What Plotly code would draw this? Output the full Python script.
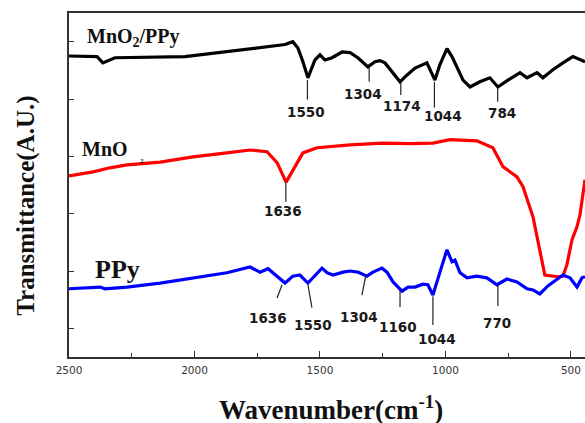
import plotly.graph_objects as go

# ---- data (wavenumber cm-1, transmittance a.u. offset) ----
wn_composite = [2500, 2388, 2365, 2337, 2317, 2038, 1898, 1779, 1699, 1639, 1608, 1588, 1568, 1548,
                1520, 1500, 1480, 1452, 1412, 1380, 1349, 1309, 1281, 1261, 1241, 1213, 1181, 1153,
                1121, 1074, 1042, 1022, 994, 974, 954, 930, 902, 863, 823, 791, 751, 703, 675, 635,
                612, 572, 532, 492, 444]
t_composite = [4.75, 4.74, 4.63, 4.68, 4.72, 4.74, 4.81, 4.88, 4.91, 4.95, 5.00, 4.89, 4.65, 4.37,
               4.68, 4.77, 4.68, 4.72, 4.82, 4.81, 4.72, 4.56, 4.65, 4.67, 4.63, 4.47, 4.30, 4.42,
               4.54, 4.63, 4.33, 4.60, 4.88, 4.74, 4.54, 4.33, 4.21, 4.30, 4.37, 4.21, 4.33, 4.46,
               4.37, 4.46, 4.37, 4.51, 4.63, 4.74, 4.65]

wn_mno2 = [2500, 2404, 2337, 2269, 2137, 2006, 1871, 1779, 1711, 1671, 1635, 1608, 1568, 1512,
           1380, 1249, 1141, 1050, 982, 875, 811, 771, 715, 691, 651, 604, 552, 532, 516, 496,
           476, 464, 444]
t_mno2 = [2.66, 2.73, 2.80, 2.85, 2.90, 2.99, 3.06, 3.11, 3.08, 2.89, 2.55, 2.76, 3.06, 3.15,
          3.20, 3.23, 3.22, 3.23, 3.29, 3.27, 3.15, 2.82, 2.64, 2.47, 1.94, 0.93, 0.90, 0.91, 1.11,
          1.54, 1.77, 1.98, 2.59]

wn_ppy = [2500, 2376, 2357, 2269, 2137, 2006, 1871, 1779, 1739, 1707, 1671, 1639, 1608, 1580,
          1548, 1520, 1492, 1472, 1448, 1408, 1380, 1349, 1313, 1289, 1253, 1233, 1209, 1173,
          1149, 1121, 1090, 1070, 1050, 1022, 994, 974, 962, 942, 914, 875, 835, 795, 755, 715,
          675, 651, 624, 592, 532, 504, 476, 456, 444]
t_ppy = [0.69, 0.72, 0.69, 0.72, 0.79, 0.88, 0.97, 1.07, 0.98, 1.04, 0.90, 0.79, 0.91, 0.93,
         0.79, 0.93, 1.05, 0.97, 0.93, 0.98, 1.00, 0.98, 0.91, 0.98, 1.05, 0.98, 0.81, 0.65,
         0.72, 0.72, 0.77, 0.76, 0.58, 0.98, 1.37, 1.16, 1.19, 0.97, 0.88, 0.91, 0.88, 0.76,
         0.86, 0.81, 0.69, 0.67, 0.60, 0.74, 0.93, 0.88, 0.72, 0.88, 0.90]

x_ticks = [2500, 2000, 1500, 1000, 500]

# peak labels: (text, line x0, line y0, line x1, line y1, text x, text y)
peaks_composite = [("1550", 1550, 4.33, 1550, 3.99, 1556, 3.78),
                   ("1304", 1304, 4.54, 1304, 4.30, 1328, 4.09),
                   ("1174", 1178, 4.28, 1178, 4.07, 1174, 3.88),
                   ("1044", 1044, 4.30, 1044, 3.85, 1010, 3.71),
                   ("784", 792, 4.19, 792, 3.95, 776, 3.76)]
peaks_mno2 = [("1636", 1636, 2.55, 1636, 2.21, 1647, 2.05)]
peaks_ppy = [("1636", 1651, 0.76, 1671, 0.53, 1707, 0.18),
             ("1550", 1548, 0.76, 1532, 0.36, 1528, 0.06),
             ("1304", 1317, 0.93, 1333, 0.58, 1345, 0.20),
             ("1160", 1181, 0.67, 1181, 0.37, 1189, 0.02),
             ("1044", 1050, 0.56, 1050, 0.06, 1034, -0.19),
             ("770", 791, 0.76, 791, 0.39, 795, 0.09)]

fig = go.Figure()
for xs, ys, col in [(wn_composite, t_composite, "#000000"),
                    (wn_mno2, t_mno2, "#ff0000"),
                    (wn_ppy, t_ppy, "#0000ff")]:
    fig.add_trace(go.Scatter(x=xs, y=ys, mode="lines",
                             line=dict(color=col, width=3.2), showlegend=False))

annotations = []
shapes = []
for group in (peaks_composite, peaks_mno2, peaks_ppy):
    for txt, x0, y0, x1, y1, tx, ty in group:
        shapes.append(dict(type="line", xref="x", yref="y", x0=x0, y0=y0, x1=x1, y1=y1,
                           line=dict(color="#222222", width=1.2)))
        annotations.append(dict(x=tx, y=ty, xref="x", yref="y", text="<b>" + txt + "</b>",
                                showarrow=False, font=dict(family="DejaVu Sans", size=13.5,
                                                           color="#1a1a1a")))

serif = "Liberation Serif"
annotations += [
    dict(x=2436, y=5.08, xref="x", yref="y", xanchor="left", yanchor="middle", showarrow=False,
         text="<b>MnO<sub>2</sub>/PPy</b>", font=dict(family=serif, size=20, color="#111111")),
    dict(x=2456, y=3.13, xref="x", yref="y", xanchor="left", yanchor="middle", showarrow=False,
         text="<b>MnO</b>", font=dict(family=serif, size=20, color="#111111")),
    dict(x=2226, y=2.92, xref="x", yref="y", xanchor="left", yanchor="middle", showarrow=False,
         text="<b>2</b>", font=dict(family=serif, size=7, color="#111111")),
    dict(x=2404, y=1.02, xref="x", yref="y", xanchor="left", yanchor="middle", showarrow=False,
         text="<b>PPy</b>", font=dict(family=serif, size=26, color="#111111")),
    dict(x=0.508, y=-0.148, xref="paper", yref="paper", xanchor="center", yanchor="middle",
         showarrow=False, text="<b>Wavenumber(cm<sup>-1</sup>)</b>",
         font=dict(family=serif, size=27, color="#111111")),
    dict(x=-0.085, y=0.44, xref="paper", yref="paper", xanchor="center", yanchor="middle",
         showarrow=False, textangle=-90,
         text="<b>Transmittance(A.U.)</b>", font=dict(family=serif, size=25, color="#111111")),
]

fig.update_layout(
    width=585, height=423,
    margin=dict(l=69, r=0, t=13, b=66),
    paper_bgcolor="white", plot_bgcolor="white",
    annotations=annotations, shapes=shapes,
    xaxis=dict(range=[2500, 444], tickvals=x_ticks, ticktext=[str(v) for v in x_ticks],
               ticks="inside", ticklen=6, tickwidth=1.2, tickcolor="#333333",
               minor=dict(ticks="inside", ticklen=4, tickwidth=1.2, tickcolor="#333333", dtick=250),
               showline=True, linecolor="#333333", linewidth=1.5, mirror=True,
               showgrid=False, zeroline=False, ticklabelstandoff=3,
               tickfont=dict(family="DejaVu Sans", size=10.5, color="#333333")),
    yaxis=dict(range=[-0.5, 5.5], dtick=1, tick0=0, showticklabels=False,
               ticks="inside", ticklen=5, tickwidth=1.2, tickcolor="#333333",
               showline=True, linecolor="#333333", linewidth=1.5,
               showgrid=False, zeroline=False),
)

fig.write_html("out.html")
